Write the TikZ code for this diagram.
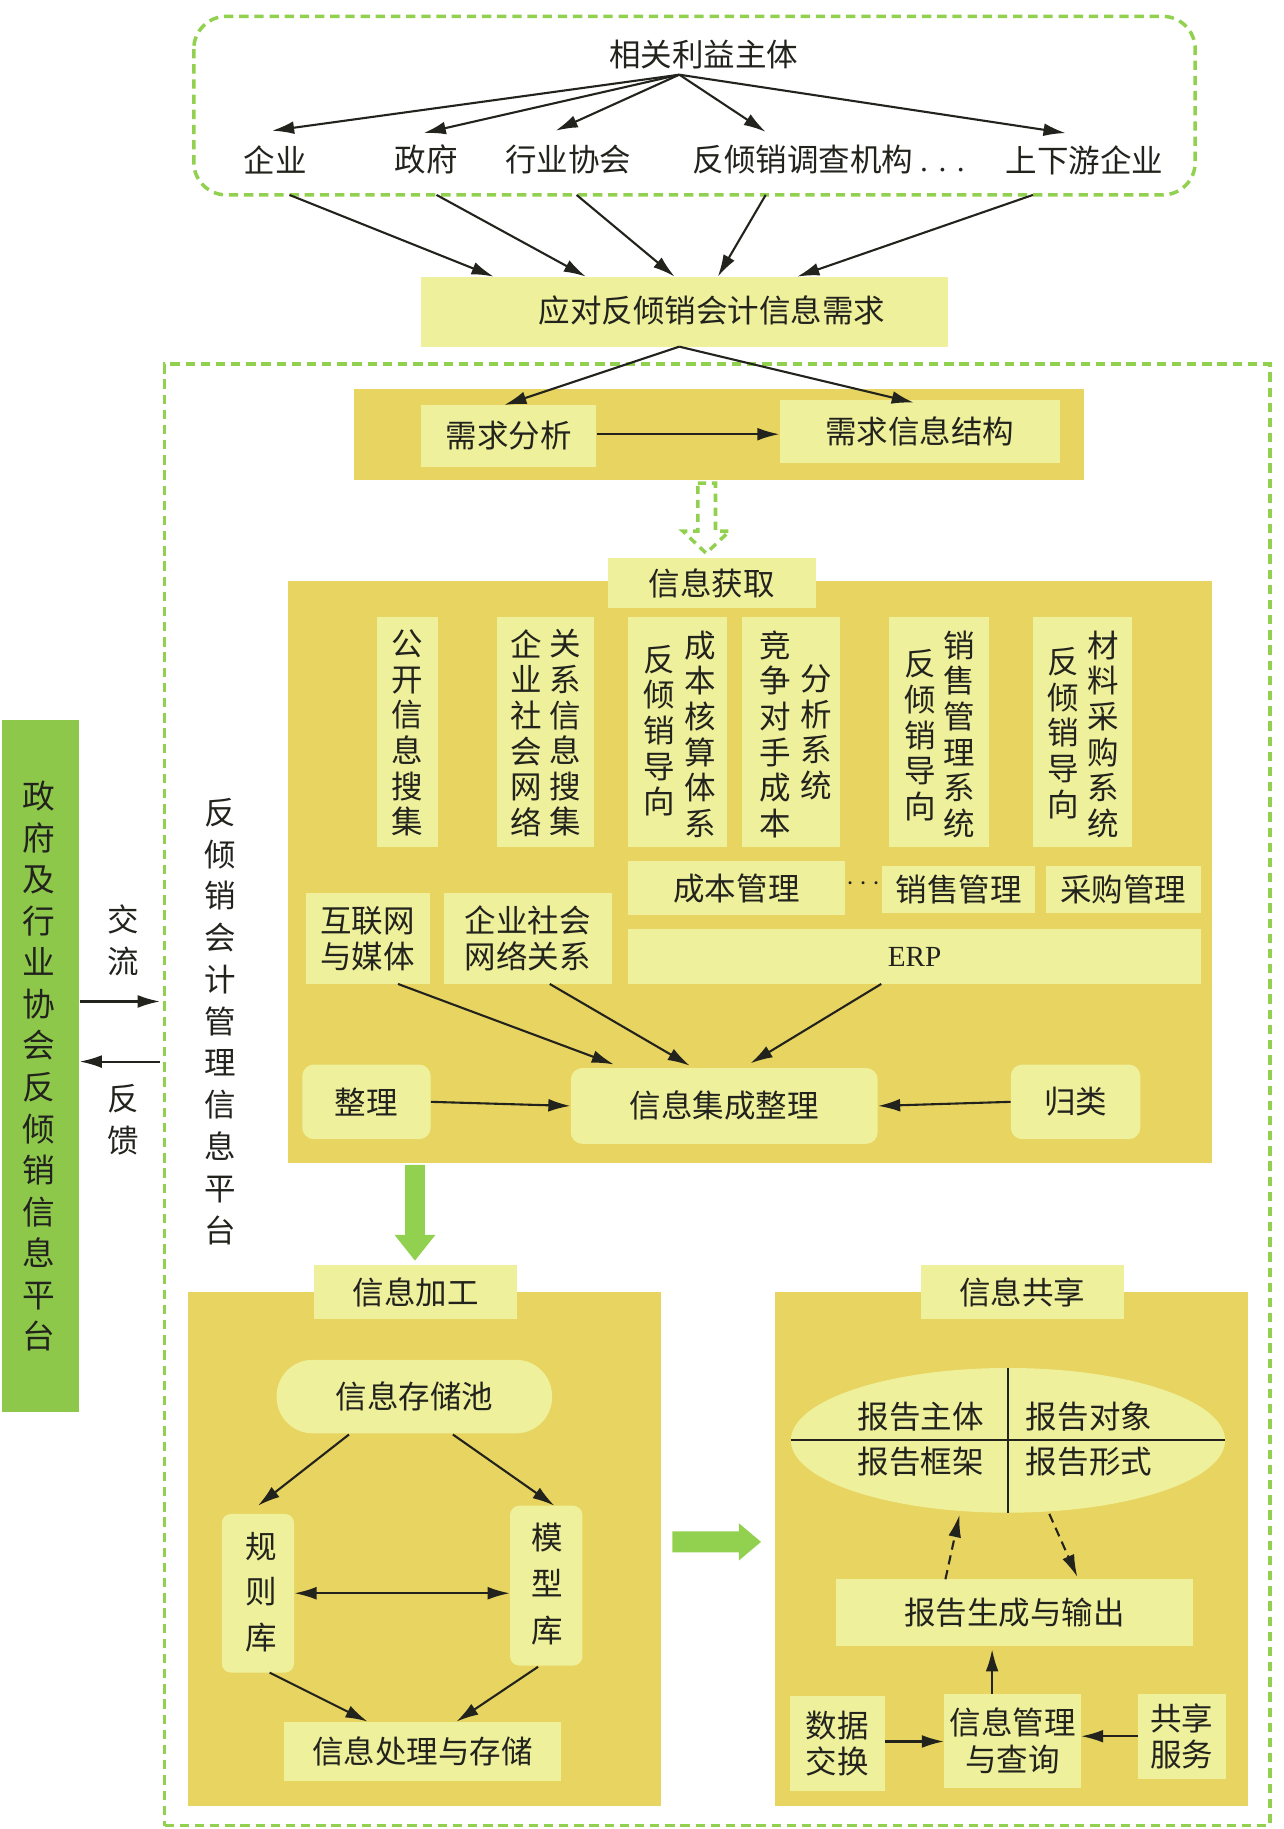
\documentclass[tikz,border=0pt]{standalone}
\usepackage{fontspec}
\setmainfont{Noto Sans CJK SC}
\newfontfamily\lat{Liberation Serif}
\usetikzlibrary{arrows.meta,shapes.geometric}
\definecolor{lightbox}{RGB}{238,240,155}
\definecolor{darkbox}{RGB}{232,212,96}
\definecolor{dgreen}{RGB}{146,208,80}
\definecolor{bargreen}{RGB}{141,200,75}
\definecolor{ink}{RGB}{35,35,30}
\newcommand\bx[7]{\node[#6,minimum width={(#4)-(#2)},minimum height={(#5)-(#3)}] (#1) at ({((#2)+(#4))/2},{((#3)+(#5))/2}) {#7};}
\begin{document}
\begin{tikzpicture}[x=1pt,y=-1pt,
  every node/.style={text=ink, font=\fontsize{27}{31}\selectfont, inner sep=0pt, align=center},
  lbox/.style={fill=lightbox},
  rbox/.style={fill=lightbox, rounded corners=10pt},
  dbox/.style={fill=darkbox},
  vt/.style={font=\fontsize{27}{30.5}\selectfont},
  gdash/.style={draw=dgreen, line width=3pt, dash pattern=on 8pt off 5pt},
  arr/.style={draw=ink, line width=1.8pt, -{Latex[length=19pt,width=11pt]}},
  darr/.style={arr, dash pattern=on 8pt off 5pt},
  barr/.style={draw=ink, line width=1.8pt, {Latex[length=19pt,width=11pt]}-{Latex[length=19pt,width=11pt]}},
  garrow/.style={fill=dgreen}
]
\useasboundingbox (0,0) rectangle (1100,1567);

% ---------- top stakeholder group ----------
\draw[gdash, rounded corners=28pt] (166,14) rectangle (1024,167);
\node (stake) at (603,47) {相关利益主体};
\node (qy) at (236,137) {企业};
\node (zf) at (365,137) {政府};
\node (hy) at (487,137) {行业协会};
\node (fq) at (710,137) {反倾销调查机构 {\lat . . .}};
\node (sx) at (929,137) {上下游企业};

\draw[arr] ([shift={(-21,17)}]stake.center) -- ([shift={(-3,-25)}]qy.center);
\draw[arr] ([shift={(-21,17)}]stake.center) -- ([shift={(-2,-23)}]zf.center);
\draw[arr] ([shift={(-21,17)}]stake.center) -- ([shift={(-11,-25)}]hy.center);
\draw[arr] ([shift={(-21,17)}]stake.center) -- ([shift={(-54,-24)}]fq.center);
\draw[arr] ([shift={(-21,17)}]stake.center) -- ([shift={(-16,-23)}]sx.center);

\bx{need}{361}{237}{812}{297}{lbox}{}
\node (needt) at (610,266) {应对反倾销会计信息需求};

\draw[arr] ([shift={(12,30)}]qy.center) -- ([shift={(-163.5,-30)}]need.center);
\draw[arr] ([shift={(9,30)}]zf.center) -- ([shift={(-84.5,-30)}]need.center);
\draw[arr] ([shift={(7,30)}]hy.center) -- ([shift={(-8.5,-30)}]need.center);
\draw[arr] ([shift={(-54,30)}]fq.center) -- ([shift={(28.5,-30)}]need.center);
\draw[arr] ([shift={(-44,30)}]sx.center) -- ([shift={(96.5,-30)}]need.center);

% ---------- platform ----------
\bx{plat}{141}{312}{1088}{1564}{gdash}{}

% demand band
\bx{band}{303}{333}{929}{411}{dbox}{}
\bx{xqfx}{361}{347}{511}{400}{lbox}{需求分析}
\bx{xqxx}{668}{343}{908}{397}{lbox}{需求信息结构}
\draw[arr] ([shift={(-4.5,30)}]need.center) -- ([shift={(-4,-26.5)}]xqfx.center);
\draw[arr] ([shift={(-4.5,30)}]need.center) -- ([shift={(-5,-25)}]xqxx.center);
\draw[arr] ([shift={(0,-1.5)}]xqfx.east) -- ([shift={(0,-1.5)}]xqfx.east -| xqxx.west);

% hollow dashed arrow
\draw[draw=dgreen, line width=3pt, dash pattern=on 7pt off 5pt]
  (598,414) -- (613,414) -- (613,455) -- (625,455) -- (605,474) -- (585,455) -- (598,455) -- cycle;

% ---------- information acquisition ----------
\bx{acq}{247}{498}{1038}{996}{dbox}{}
\bx{acqtab}{521}{478}{699}{521}{lbox}{信息获取}

\bx{c1}{323}{529}{375}{726}{lbox}{}
\bx{c2}{426}{529}{509}{726}{lbox}{}
\bx{c3}{538}{529}{623}{726}{lbox}{}
\bx{c4}{636}{529}{720}{726}{lbox}{}
\bx{c5}{762}{529}{847}{726}{lbox}{}
\bx{c6}{885}{529}{970}{726}{lbox}{}
\node[vt] (c1a) at (349,628) {公\\开\\信\\息\\搜\\集};
\node[vt] (c2a) at (451,628) {企\\业\\社\\会\\网\\络};
\node[vt] (c2b) at (484,628) {关\\系\\信\\息\\搜\\集};
\node[vt] (c3a) at (565,626) {反\\倾\\销\\导\\向};
\node[vt] (c3b) at (600,629) {成\\本\\核\\算\\体\\系};
\node[vt] (c4a) at (664,629) {竞\\争\\对\\手\\成\\本};
\node[vt] (c4b) at (699.5,627.5) {分\\析\\系\\统};
\node[vt] (c5a) at (788,630) {反\\倾\\销\\导\\向};
\node[vt] (c5b) at (822,629) {销\\售\\管\\理\\系\\统};
\node[vt] (c6a) at (911,628) {反\\倾\\销\\导\\向};
\node[vt] (c6b) at (945,629) {材\\料\\采\\购\\系\\统};

\bx{cbgl}{538}{738}{724}{784}{lbox}{成本管理}
\node (dots) at (740,757) {$\cdots$};
\bx{xsgl}{756}{742}{887}{782}{lbox}{销售管理}
\bx{cggl}{896}{742}{1029}{782}{lbox}{采购管理}
\bx{hlw}{262}{765}{368}{843}{lbox}{互联网\\与媒体}
\bx{qysh}{380}{765}{524}{843}{lbox}{企业社会\\网络关系}
\bx{erp}{538}{796}{1029}{843}{lbox}{\lat\fontsize{25}{28}\selectfont ERP}

\bx{zl}{259}{912}{369}{976}{rbox}{整理}
\bx{jczl}{489}{915}{752}{980}{rbox}{信息集成整理}
\bx{gl}{866}{912}{977}{976}{rbox}{归类}

\draw[arr] ([shift={(26,39)}]hlw.center) -- ([shift={(-94.5,-35.5)}]jczl.center);
\draw[arr] ([shift={(19,39)}]qysh.center) -- ([shift={(-29.5,-34.5)}]jczl.center);
\draw[arr] ([shift={(-28.5,23.5)}]erp.center) -- ([shift={(22.5,-36.5)}]jczl.center);
\draw[arr] (zl.east) -- (jczl.west);
\draw[arr] (gl.west) -- (jczl.east);

% green down arrow
\fill[garrow] (347,998) -- (364,998) -- (364,1058) -- (373,1058) -- (355.5,1080) -- (338,1058) -- (347,1058) -- cycle;

% ---------- information processing ----------
\bx{proc}{161}{1107}{566}{1547}{dbox}{}
\bx{proctab}{269}{1084}{443}{1130}{lbox}{信息加工}
\bx{pool}{237}{1165}{473}{1228}{fill=lightbox, rounded corners=31pt}{信息存储池}
\bx{gz}{190}{1297}{252}{1433}{fill=lightbox, rounded corners=8pt}{}
\node[font=\fontsize{27}{39}\selectfont] (gzt) at (223.5,1364) {规\\则\\库};
\bx{mx}{437}{1290}{499}{1427}{fill=lightbox, rounded corners=8pt}{}
\node[font=\fontsize{27}{40}\selectfont] (mxt) at (468.5,1357) {模\\型\\库};
\bx{cl}{243}{1475}{481}{1526}{lbox}{信息处理与存储}

\draw[arr] ([shift={(-56,32.5)}]pool.center) -- ([shift={(0,-75)}]gz.center);
\draw[arr] ([shift={(33,32.5)}]pool.center) -- ([shift={(7,-68.5)}]mx.center);
\draw[barr] (gz.east) -- (gz.east -| mx.west);
\draw[arr] ([shift={(10,68)}]gz.center) -- ([shift={(-47,-25.5)}]cl.center);
\draw[arr] ([shift={(-7,69.5)}]mx.center) -- ([shift={(29,-25.5)}]cl.center);

% green right arrow
\fill[garrow] (576,1312) -- (633,1312) -- (633,1305) -- (652,1321) -- (633,1337) -- (633,1330) -- (576,1330) -- cycle;

% ---------- information sharing ----------
\bx{share}{664}{1107}{1069}{1547}{dbox}{}
\bx{sharetab}{789}{1084}{963}{1130}{lbox}{信息共享}
\node[ellipse, fill=lightbox, minimum width=372pt, minimum height=124pt] (ell) at (863.6,1234) {};
\draw[draw=ink, line width=1.8pt] (ell.north) -- (ell.south);
\draw[draw=ink, line width=1.8pt] (ell.west) -- (ell.east);
\node (bg1) at (789,1214) {报告主体};
\node (bg2) at (933,1214) {报告对象};
\node (bg3) at (789,1252) {报告框架};
\node (bg4) at (933,1252) {报告形式};

\bx{bgsc}{716}{1353}{1022}{1410}{lbox}{报告生成与输出}
\bx{xxgl}{809}{1451}{926}{1532}{lbox}{信息管理\\与查询}
\bx{sjjh}{677}{1453}{758}{1534}{lbox}{数据\\交换}
\bx{gxfw}{975}{1451}{1050}{1524}{lbox}{共享\\服务}

\draw[darr] ([shift={(-59,-28.5)}]bgsc.center) -- ([shift={(-41.6,64)}]ell.center);
\draw[darr] ([shift={(35.4,63)}]ell.center) -- ([shift={(54,-30.5)}]bgsc.center);
\draw[arr] ([shift={(-17.5,-40.5)}]xxgl.center) -- ([shift={(-19,31.5)}]bgsc.center);
\draw[arr] ([shift={(0,-1.5)}]sjjh.east) -- ([shift={(0,-1.5)}]sjjh.east -| xxgl.west);
\draw[arr] (gxfw.west) -- (gxfw.west -| xxgl.east);

% ---------- left side ----------
\bx{bar}{2}{617}{68}{1210}{fill=bargreen}{}
\node[font=\fontsize{28}{35.6}\selectfont] (bart) at (33,913.5) {政\\府\\及\\行\\业\\协\\会\\反\\倾\\销\\信\\息\\平\\台};
\node[font=\fontsize{27}{36}\selectfont] (jl) at (106,806) {交\\流};
\node[font=\fontsize{27}{36}\selectfont] (fk) at (106,959) {反\\馈};
\node[font=\fontsize{27}{35.8}\selectfont] (platt) at (188.6,875) {反\\倾\\销\\会\\计\\管\\理\\信\\息\\平\\台};
\coordinate (c1) at (137,858);
\coordinate (c2) at (137,909.5);
\draw[arr] (c1 -| bar.east) -- (c1);
\draw[arr] (c2) -- (c2 -| bar.east);
\end{tikzpicture}
\end{document}
